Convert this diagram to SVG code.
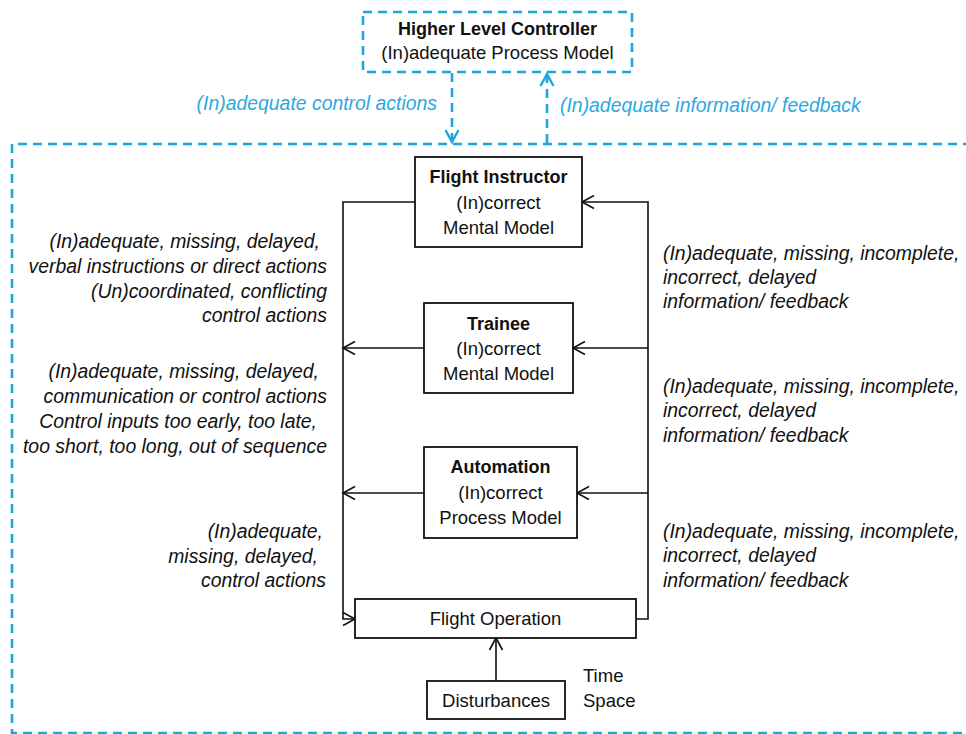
<svg xmlns="http://www.w3.org/2000/svg" width="966" height="734" viewBox="0 0 966 734">
<style>
text{font-family:"Liberation Sans",Arial,sans-serif;fill:#111}
.n{font-size:18.5px;text-anchor:middle}
.b{font-weight:bold;font-size:18px}
.i{font-style:italic;font-size:19.4px}
.bl{fill:#2BA9E1}
.box{fill:#fff;stroke:#111;stroke-width:1.8}
.ln{fill:none;stroke:#111;stroke-width:1.6}
.dash{fill:none;stroke:#1BA6E0;stroke-width:2.6;stroke-dasharray:9,6}
</style>
<defs>
<marker id="ah" markerUnits="userSpaceOnUse" markerWidth="16" markerHeight="16" refX="13" refY="7" orient="auto" viewBox="0 0 16 14">
<path d="M1,0.5 L13,7 L1,13.5" fill="none" stroke="#111" stroke-width="1.6"/>
</marker>
<marker id="ahb" markerUnits="userSpaceOnUse" markerWidth="16" markerHeight="16" refX="13" refY="7" orient="auto" viewBox="0 0 16 14">
<path d="M1,0.5 L13,7 L1,13.5" fill="none" stroke="#1BA6E0" stroke-width="2.4"/>
</marker>
</defs>
<rect width="966" height="734" fill="#fff"/>
<path class="dash" d="M972,144 H12 V733 H972"/>
<g id="connectors">
<path class="dash" d="M452,73 V142" marker-end="url(#ahb)"/>
<path class="dash" d="M547,143 V74" marker-end="url(#ahb)"/>
<path class="ln" d="M415,202 H343 V619 H355" marker-end="url(#ah)"/>
<path class="ln" d="M424,348 H343" marker-end="url(#ah)"/>
<path class="ln" d="M424,493 H343" marker-end="url(#ah)"/>
<path class="ln" d="M636,619 H648 V202 H582" marker-end="url(#ah)"/>
<path class="ln" d="M648,348 H573" marker-end="url(#ah)"/>
<path class="ln" d="M648,493 H577" marker-end="url(#ah)"/>
<path class="ln" d="M496,681 V638" marker-end="url(#ah)"/>
</g>
<g id="higher-level-controller">
<rect x="363" y="12" width="269" height="60" fill="#fff" class="dash"/>
<text class="n b" x="497.5" y="35">Higher Level Controller</text>
<text class="n" x="497.5" y="59">(In)adequate Process Model</text>
</g>
<g id="flight-instructor">
<rect class="box" x="415" y="157" width="167" height="90"/>
<text class="n b" x="498.5" y="183">Flight Instructor</text>
<text class="n" x="498.5" y="209">(In)correct</text>
<text class="n" x="498.5" y="234">Mental Model</text>
</g>
<g id="trainee">
<rect class="box" x="424" y="303" width="149" height="90"/>
<text class="n b" x="498.5" y="330">Trainee</text>
<text class="n" x="498.5" y="355">(In)correct</text>
<text class="n" x="498.5" y="380">Mental Model</text>
</g>
<g id="automation">
<rect class="box" x="424" y="447" width="153" height="91"/>
<text class="n b" x="500.5" y="473">Automation</text>
<text class="n" x="500.5" y="499">(In)correct</text>
<text class="n" x="500.5" y="524">Process Model</text>
</g>
<g id="flight-operation">
<rect class="box" x="355" y="599" width="281" height="39"/>
<text class="n" x="495.5" y="625">Flight Operation</text>
</g>
<g id="disturbances">
<rect class="box" x="427" y="681" width="138" height="38"/>
<text class="n" x="496" y="707">Disturbances</text>
</g>
<g id="labels">
<text style="font-size:18.5px" x="583" y="682">Time</text>
<text style="font-size:18.5px" x="583" y="707">Space</text>
<text class="i bl" x="437" y="110" text-anchor="end">(In)adequate control actions</text>
<text class="i bl" x="560" y="112">(In)adequate information/ feedback</text>
<g class="i" text-anchor="end">
<text class="i" x="320" y="248">(In)adequate, missing, delayed,</text>
<text class="i" x="327" y="273">verbal instructions or direct actions</text>
<text class="i" x="327" y="298">(Un)coordinated, conflicting</text>
<text class="i" x="327" y="322">control actions</text>
<text class="i" x="319" y="378">(In)adequate, missing, delayed,</text>
<text class="i" x="327" y="403">communication or control actions</text>
<text class="i" x="317" y="428">Control inputs too early, too late,</text>
<text class="i" x="327" y="453">too short, too long, out of sequence</text>
<text class="i" x="323" y="538">(In)adequate,</text>
<text class="i" x="318" y="563">missing, delayed,</text>
<text class="i" x="326" y="587">control actions</text>
</g>
<text class="i" x="663" y="260">(In)adequate, missing, incomplete,</text>
<text class="i" x="663" y="284">incorrect, delayed</text>
<text class="i" x="663" y="308">information/ feedback</text>
<text class="i" x="663" y="393">(In)adequate, missing, incomplete,</text>
<text class="i" x="663" y="417">incorrect, delayed</text>
<text class="i" x="663" y="442">information/ feedback</text>
<text class="i" x="663" y="538">(In)adequate, missing, incomplete,</text>
<text class="i" x="663" y="562">incorrect, delayed</text>
<text class="i" x="663" y="587">information/ feedback</text>
</g>
</svg>
